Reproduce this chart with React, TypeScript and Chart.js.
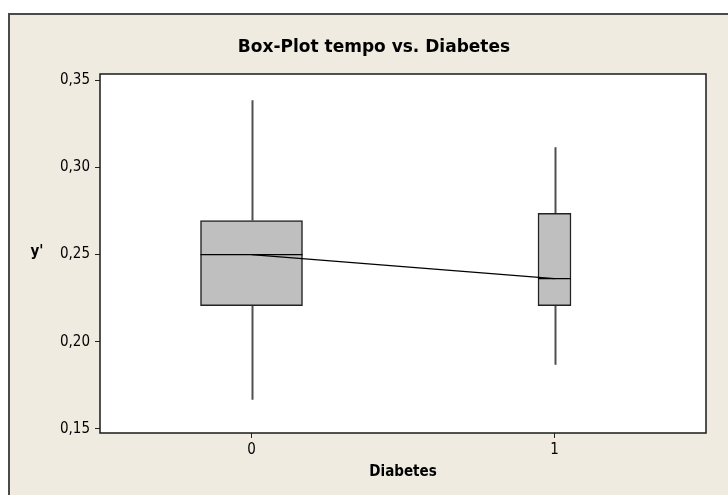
import React, { useEffect, useRef } from "react";
import { Chart, registerables } from "chart.js";

Chart.register(...registerables);

const CATEGORIES = ["0", "1"];
const WHISKER_LOW = [0.1667, 0.1868];
const Q1 = [0.2207, 0.2207];
const MEDIAN = [0.25, 0.2362];
const Q3 = [0.2695, 0.2736];
const WHISKER_HIGH = [0.3385, 0.3115];
const Y_TICKS = [0.15, 0.2, 0.25, 0.3, 0.35];
const TITLE = "Box-Plot tempo vs. Diabetes";
const X_TITLE = "Diabetes";
const Y_TITLE = "y'";

const BOX_PX = [102, 33];
const FONT = "'DejaVu Sans Condensed', 'DejaVu Sans', sans-serif";
const TITLE_FONT = "'DejaVu Sans', sans-serif";
const BG = "#EFEBE1";

export default function App() {
  const ref = useRef<HTMLCanvasElement | null>(null);

  useEffect(() => {
    if (!ref.current) return;

    const decor = {
      id: "decor",
      beforeDraw(chart: any) {
        const { ctx, chartArea } = chart;
        ctx.save();
        ctx.fillStyle = "#ffffff";
        ctx.fillRect(0, 0, chart.width, chart.height);
        ctx.fillStyle = BG;
        ctx.fillRect(9, 14, chart.width, chart.height);
        ctx.strokeStyle = "#4a4a4a";
        ctx.lineWidth = 2;
        ctx.beginPath();
        ctx.moveTo(9, chart.height + 5);
        ctx.lineTo(9, 14);
        ctx.lineTo(chart.width + 5, 14);
        ctx.stroke();
        ctx.fillStyle = "#ffffff";
        ctx.fillRect(chartArea.left, chartArea.top, chartArea.right - chartArea.left, chartArea.bottom - chartArea.top);
        ctx.restore();
      },
      beforeDatasetsDraw(chart: any) {
        const { ctx } = chart;
        const xs = chart.scales.x;
        const ys = chart.scales.y;
        ctx.save();
        ctx.strokeStyle = "#505050";
        ctx.lineWidth = 2;
        for (let i = 0; i < CATEGORIES.length; i++) {
          const x = Math.round(xs.getPixelForValue(i)) + 0.5;
          ctx.beginPath();
          ctx.moveTo(x, ys.getPixelForValue(WHISKER_HIGH[i]));
          ctx.lineTo(x, ys.getPixelForValue(Q3[i]));
          ctx.moveTo(x, ys.getPixelForValue(Q1[i]));
          ctx.lineTo(x, ys.getPixelForValue(WHISKER_LOW[i]));
          ctx.stroke();
        }
        ctx.restore();
      },
      afterDatasetsDraw(chart: any) {
        const { ctx, chartArea } = chart;
        const xs = chart.scales.x;
        const ys = chart.scales.y;
        ctx.save();
        ctx.strokeStyle = "#000";
        ctx.lineWidth = 1.3;
        for (let i = 0; i < CATEGORIES.length; i++) {
          const x = xs.getPixelForValue(i);
          const y = ys.getPixelForValue(MEDIAN[i]);
          ctx.beginPath();
          ctx.moveTo(x - BOX_PX[i] / 2, y);
          ctx.lineTo(x + BOX_PX[i] / 2, y);
          ctx.stroke();
        }
        ctx.strokeStyle = "#1a1a1a";
        ctx.lineWidth = 1.5;
        ctx.strokeRect(chartArea.left, chartArea.top, chartArea.right - chartArea.left, chartArea.bottom - chartArea.top);
        ctx.restore();
      },
      afterDraw(chart: any) {
        const { ctx, chartArea } = chart;
        ctx.save();
        ctx.fillStyle = "#000";
        ctx.textAlign = "center";
        ctx.textBaseline = "middle";
        ctx.font = `bold 17px ${TITLE_FONT}`;
        ctx.fillText(TITLE, 374, 48);
        ctx.font = `bold 15px ${FONT}`;
        ctx.fillText(X_TITLE, (chartArea.left + chartArea.right) / 2, 472);
        ctx.fillText(Y_TITLE, 37, 252);
        ctx.restore();
      },
    };

    const chart = new Chart(ref.current, {
      type: "bar",
      data: {
        labels: CATEGORIES,
        datasets: [
          {
            type: "line",
            data: MEDIAN,
            borderColor: "#000",
            borderWidth: 1.3,
            pointRadius: 0,
            fill: false,
          } as any,
          {
            data: [[Q1[0], Q3[0]], null],
            backgroundColor: "#BFBFBF",
            borderColor: "#222",
            borderWidth: 1.5,
            borderSkipped: false,
            barThickness: BOX_PX[0],
            grouped: false,
          } as any,
          {
            data: [null, [Q1[1], Q3[1]]],
            backgroundColor: "#BFBFBF",
            borderColor: "#222",
            borderWidth: 1.5,
            borderSkipped: false,
            barThickness: BOX_PX[1],
            grouped: false,
          } as any,
        ],
      },
      plugins: [decor],
      options: {
        animation: false,
        responsive: false,
        maintainAspectRatio: false,
        layout: { padding: { left: 0, top: 74, right: 22, bottom: 0 } },
        plugins: { legend: { display: false }, title: { display: false }, tooltip: { enabled: false } },
        scales: {
          x: {
            offset: true,
            grid: { display: true, drawOnChartArea: false, drawTicks: true, tickLength: 5, color: "#222", offset: false },
            border: { display: false },
            ticks: { color: "#000", font: { family: FONT, size: 15 }, padding: 3 },
            afterFit(scale: any) {
              scale.height = 62;
            },
          },
          y: {
            min: 0.1476,
            max: 0.3536,
            grid: { display: true, drawOnChartArea: false, drawTicks: true, tickLength: 5, color: "#222" },
            border: { display: false },
            afterBuildTicks(scale: any) {
              scale.ticks = Y_TICKS.map((v) => ({ value: v }));
            },
            ticks: {
              color: "#000",
              font: { family: FONT, size: 15 },
              padding: 5,
              callback: (v: any) => Number(v).toFixed(2).replace(".", ","),
            },
            afterFit(scale: any) {
              scale.width = 100;
            },
          },
        },
      },
    });
    return () => chart.destroy();
  }, []);

  return (
    <div style={{ position: "absolute", left: 0, top: 0, width: 728, height: 495 }}>
      <canvas ref={ref} width={728} height={495} style={{ width: 728, height: 495 }} />
    </div>
  );
}
